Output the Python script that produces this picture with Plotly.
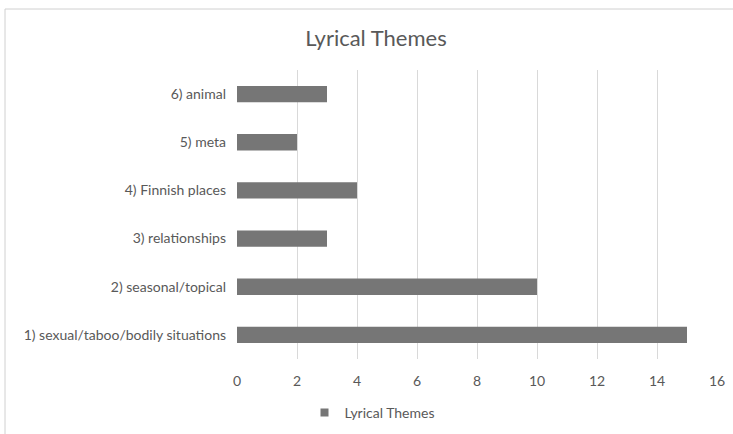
import plotly.graph_objects as go

categories = ["1) sexual/taboo/bodily situations", "2) seasonal/topical", "3) relationships",
              "4) Finnish places", "5) meta", "6) animal"]
values = [15, 10, 3, 4, 2, 3]
series_name = "Lyrical Themes"
x_ticks = [0, 2, 4, 6, 8, 10, 12, 14, 16]

W, H = 733, 434
L, R, T, B = 237, 16, 70, 75
pw, ph = W - L - R, H - T - B

def px_to_paper_x(px):
    return (px - L) / pw

def px_to_paper_y(py):
    return (H - B - py) / ph

bar_color = "#767676"

fig = go.Figure()
fig.add_trace(go.Bar(
    y=categories, x=values, orientation="h", name=series_name,
    marker=dict(color=bar_color, line=dict(width=0)),
    showlegend=False,
))
# legend entry with a small square marker, like the original
fig.add_trace(go.Scatter(
    x=[None], y=[None], mode="markers", name=series_name,
    marker=dict(symbol="square", size=8, color=bar_color),
    showlegend=True, hoverinfo="skip",
))

fig.update_layout(
    width=W, height=H,
    margin=dict(l=L, r=R, t=T, b=B, autoexpand=False),
    paper_bgcolor="white", plot_bgcolor="white",
    font=dict(family="Lato, Open Sans, sans-serif", size=14, color="#595959"),
    title=dict(text="Lyrical Themes", x=376 / W, xanchor="center",
               y=1 - 38 / H, yanchor="middle",
               font=dict(size=22, color="#595959")),
    bargap=0.66,
    xaxis=dict(range=[0, 16], tickvals=x_ticks, showgrid=True, gridcolor="#d9d9d9",
               gridwidth=1, zeroline=False, showline=False, ticks="",
               ticklabelstandoff=12, fixedrange=True),
    yaxis=dict(showgrid=False, zeroline=False, showline=False, ticks="",
               ticklabelstandoff=10, fixedrange=True),
    legend=dict(orientation="h", x=px_to_paper_x(372), xanchor="center",
                y=px_to_paper_y(413), yanchor="middle",
                font=dict(size=14, color="#595959"), itemwidth=30),
    shapes=[
        dict(type="line", xref="paper", yref="paper",
             x0=px_to_paper_x(5), x1=px_to_paper_x(740),
             y0=px_to_paper_y(9), y1=px_to_paper_y(9),
             line=dict(color="#d0d0d0", width=1)),
        dict(type="line", xref="paper", yref="paper",
             x0=px_to_paper_x(5), x1=px_to_paper_x(5),
             y0=px_to_paper_y(9), y1=px_to_paper_y(440),
             line=dict(color="#d0d0d0", width=1)),
    ],
)

fig.write_html("out.html")
